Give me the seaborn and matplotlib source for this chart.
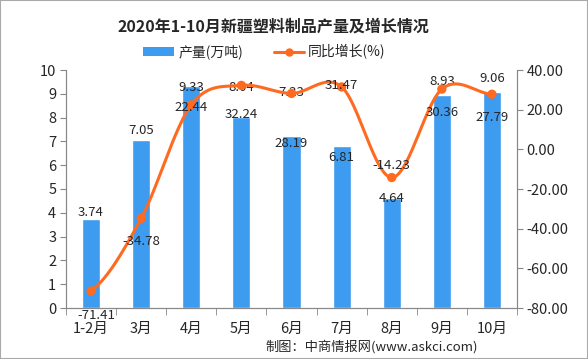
import numpy as np
import pandas as pd
import seaborn as sns
import matplotlib.pyplot as plt
from matplotlib.patches import Rectangle
from matplotlib.lines import Line2D
from matplotlib.patches import Patch

# --- données ---
months = ['1-2月', '3月', '4月', '5月', '6月', '7月', '8月', '9月', '10月']
output = [3.74, 7.05, 9.33, 8.04, 7.23, 6.81, 4.64, 8.93, 9.06]
growth = [-71.41, -34.78, 22.44, 32.24, 28.19, 31.47, -14.23, 30.36, 27.79]

# décalages des étiquettes (points), comme placés dans l'original
bar_lbl_dy = [5, 7, -1, 21, 31, -8, -0.5, 10, 10]
line_lbl_dy = [-18, -17, -2, -21, -36, 1, 9, -17, -17]
line_lbl_dx = [4, 0, 0, 0, 0, 0, 0, 0, 0]

sns.set_style('white')
plt.rcParams['font.family'] = ['Noto Sans CJK SC', 'DejaVu Sans']

BLUE = '#3d9bf0'
ORANGE = '#ff6a21'
GREY = '#888888'

fig = plt.figure(figsize=(5.88, 3.59), dpi=100)
ax = fig.add_axes([66 / 588, 1 - 308 / 359, 451 / 588, 238 / 359])

df = pd.DataFrame({'month': months, 'output': output, 'growth': growth})
sns.barplot(data=df, x='month', y='output', color=BLUE, width=0.36,
            saturation=1, ax=ax)
ax.set_xlim(-0.5, 8.5)
ax.set_ylim(0, 10)
ax.set_yticks(range(0, 11))
ax.set_xlabel('')
ax.set_ylabel('')

ax2 = ax.twinx()
# courbe lissée (Catmull-Rom) pour imiter la ligne "lissée" d'Excel
xs, ys = [], []
pts = np.array(growth)
n = len(pts)
for i in range(n - 1):
    p0 = pts[max(i - 1, 0)]
    p1 = pts[i]
    p2 = pts[i + 1]
    p3 = pts[min(i + 2, n - 1)]
    t = np.linspace(0, 1, 30)
    y = 0.5 * ((2 * p1) + (-p0 + p2) * t + (2 * p0 - 5 * p1 + 4 * p2 - p3) * t ** 2
               + (-p0 + 3 * p1 - 3 * p2 + p3) * t ** 3)
    xs.extend(i + t)
    ys.extend(y)
ax2.plot(xs, ys, color=ORANGE, lw=2.2, zorder=3)
sns.scatterplot(x=np.arange(n), y=growth, color=ORANGE, s=45, edgecolor='none',
                ax=ax2, zorder=4)
ax2.set_ylim(-80, 40)
ax2.set_yticks(range(-80, 41, 20))
ax2.set_yticklabels([f'{v:.2f}' for v in range(-80, 41, 20)])

for a in (ax, ax2):
    for s in ['top']:
        a.spines[s].set_visible(False)
    for s in ['left', 'right', 'bottom']:
        a.spines[s].set_color(GREY)
        a.spines[s].set_linewidth(0.8)

ax.tick_params(axis='y', length=4, color=GREY, labelsize=10.5, pad=3, left=True)
ax2.tick_params(axis='y', length=4, color=GREY, labelsize=10.5, pad=3, right=True)
ax.set_xticks(range(n))
ax.set_xticklabels(months, fontsize=10.5)
ax.tick_params(axis='x', length=0, pad=10)
ax.set_xticks(np.arange(-0.5, 9, 1), minor=True)
ax.tick_params(axis='x', which='minor', length=5, color=GREY, bottom=True)

# étiquettes
for i in range(n):
    ax.annotate(f'{output[i]:.2f}', (i, output[i]), xytext=(0, bar_lbl_dy[i]),
                textcoords='offset points', ha='center', va='center',
                fontsize=9.5, annotation_clip=False, zorder=5)
    ax2.annotate(f'{growth[i]:.2f}', (i, growth[i]),
                 xytext=(line_lbl_dx[i], line_lbl_dy[i]),
                 textcoords='offset points', ha='center', va='center',
                 fontsize=9.5, annotation_clip=False, zorder=5)

fig.text(0.465, 1 - 27 / 359, '2020年1-10月新疆塑料制品产量及增长情况',
         ha='center', va='center', fontsize=11.5, fontweight='bold')

handles = [Patch(facecolor=BLUE, edgecolor='none'),
           Line2D([0], [0], color=ORANGE, lw=2.2, marker='o', markersize=5)]
fig.legend(handles, ['产量(万吨)', '同比增长(%)'], loc='center',
           bbox_to_anchor=(0.45, 1 - 52 / 359), ncol=2, frameon=False,
           fontsize=10, handlelength=2.2, handleheight=0.6, columnspacing=2.2,
           handletextpad=0.3)

fig.text(478 / 588, 1 - 347 / 359, '制图：中商情报网(www.askci.com)',
         ha='right', va='center', fontsize=9.5)

fig.add_artist(Rectangle((0, 0), 1, 1, transform=fig.transFigure, fill=False,
                         edgecolor='#aaaaaa', lw=1.5))

fig.savefig('out.png', dpi=100)
